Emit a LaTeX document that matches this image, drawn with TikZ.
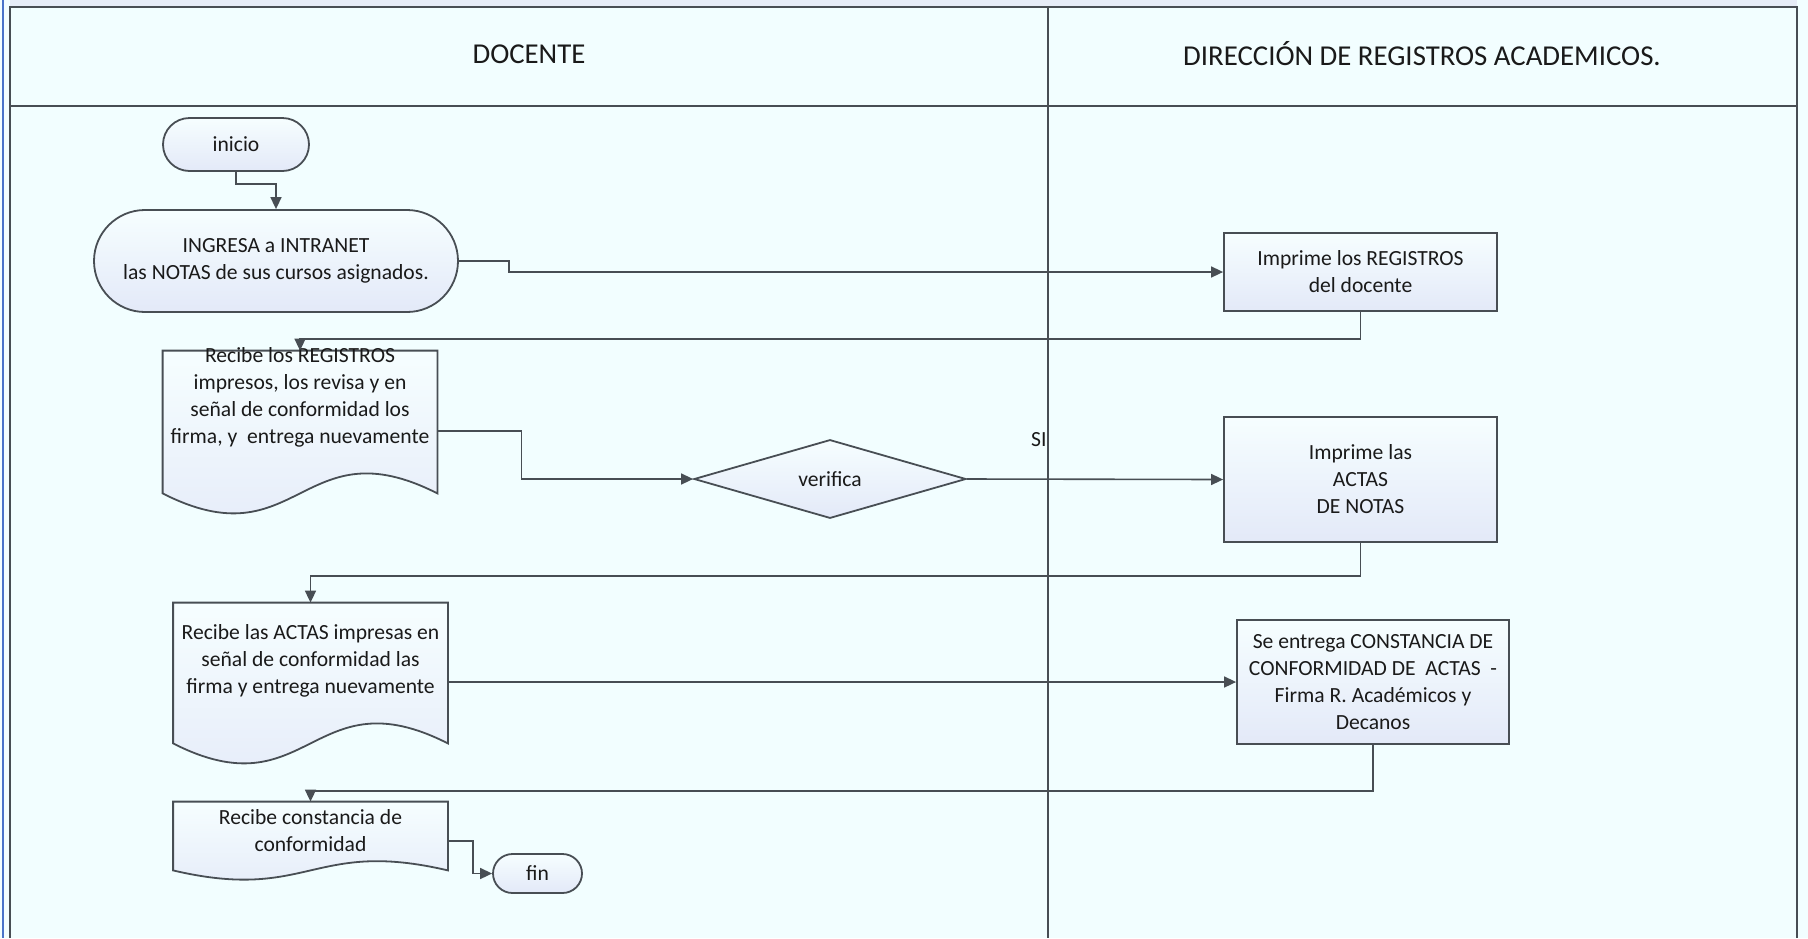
\documentclass[tikz,border=0pt]{standalone}
\usepackage{fontspec}
\setmainfont{Carlito}
\usetikzlibrary{shapes.geometric,shapes.misc,arrows.meta}
\definecolor{lanebg}{HTML}{F2FEFF}
\definecolor{laneline}{HTML}{484E54}
\definecolor{laneblue}{HTML}{4A74C9}
\definecolor{striptop}{HTML}{E6ECF7}
\definecolor{boxtop}{HTML}{F6FEFF}
\definecolor{boxbot}{HTML}{E3E9F8}
\definecolor{flowtext}{HTML}{1A1A1A}

% outline of a document shape round an empty node: name, wave depth
\newcommand{\wavedoc}[2]{%
  \draw[docline] (#1.south west) -- (#1.north west) -- (#1.north east) -- (#1.south east)
    .. controls +(-68pt,#2) and +(68pt,-#2) .. (#1.south west) -- cycle;}

\begin{document}
\begin{tikzpicture}[x=0.5pt, y=-0.5pt,
  txt/.style={font=\fontsize{10.8}{13.5}\selectfont, text=flowtext, align=center, inner sep=0pt},
  lanetitle/.style={font=\fontsize{14.4}{17}\selectfont, text=flowtext},
  procbox/.style={draw=laneline, line width=0.9pt, top color=boxtop, bottom color=boxbot,
    minimum width=136.5pt, inner sep=2pt, txt},
  termbox/.style={rounded rectangle, draw=laneline, line width=0.9pt, top color=boxtop,
    bottom color=boxbot, inner sep=2pt, txt},
  docbox/.style={minimum width=137pt, inner sep=0pt},
  docline/.style={draw=laneline, line width=0.9pt, top color=boxtop, bottom color=boxbot},
  flow/.style={draw=laneline, line width=0.8pt, -{Triangle[length=6pt,width=5.5pt]}},
  frame/.style={draw=laneline, line width=1pt}]

\useasboundingbox (0,0) rectangle (1808,938);
\fill[lanebg] (0,0) rectangle (1808,938);
\fill[striptop] (10,0) rectangle (1797,7);
\draw[laneblue, line width=1pt] (3,0) -- (3,938);

% swimlanes
\draw[frame] (10,938) -- (10,7) -- (1797,7) -- (1797,938);
\draw[frame] (10,106) -- (1797,106);
\draw[frame] (1048,7) -- (1048,938);
\node[lanetitle] (docente) at (529,54) {DOCENTE};
\node[lanetitle] (registros) at (1422,54) {DIRECCIÓN DE REGISTROS ACADEMICOS.};

% docente lane
\node[termbox, minimum width=73pt, minimum height=26.5pt] (inicio) at (236,144.5) {inicio};
\node[termbox, minimum width=182pt, minimum height=51pt] (ingresa) at (276,261)
  {INGRESA a INTRANET\\las NOTAS de sus cursos asignados.};

\node[docbox, minimum height=71pt] (recreg) at (300,422) {};
\wavedoc{recreg}{34.6pt}
\node[txt] (recregtxt) at (300,397.5)
  {Recibe los REGISTROS\\impresos, los revisa y en\\señal de conformidad los\\firma, y\ \ entrega nuevamente};

\node[diamond, draw=laneline, line width=0.9pt, top color=boxtop, bottom color=boxbot,
  minimum width=136pt, minimum height=38pt, inner sep=0pt, txt] (verifica) at (830,479) {verifica};
\node[txt, anchor=east] (si) at (1047,440) {SI};

\node[docbox, minimum height=70pt] (recactas) at (310.5,673) {};
\wavedoc{recactas}{34.6pt}
\node[txt] (recactastxt) at (310.5,661)
  {Recibe las ACTAS impresas en\\señal de conformidad las\\firma y entrega nuevamente};

\node[docbox, minimum height=34pt] (recconst) at (310.5,836) {};
\wavedoc{recconst}{16pt}
\node[txt] (recconsttxt) at (310.5,830.5) {Recibe constancia de\\conformidad};

\node[termbox, minimum width=44.5pt, minimum height=19.5pt] (fin) at (537.5,873.5) {fin};

% registros lane
\node[procbox, minimum height=39pt] (impreg) at (1360.5,272) {Imprime los REGISTROS\\del docente};
\node[procbox, minimum height=62.5pt] (impactas) at (1360.5,479.5) {Imprime las\\ACTAS\\DE NOTAS};
\node[procbox, minimum width=136pt, minimum height=62pt] (entrega) at (1373,682)
  {Se entrega CONSTANCIA DE\\CONFORMIDAD DE\ \ ACTAS\ \ -\\Firma R. Académicos y\\Decanos};

% connectors
\draw[flow] (inicio.south) -- ++(0,12) -| (ingresa.north);
\draw[flow] (ingresa.east) -- ++(50,0) |- (impreg.west);
\draw[flow] (impreg.south) -- ++(0,27) -| (recreg.north);
\draw[flow] ([yshift=-4.5pt]recreg.east) -- ++(84,0) |- (verifica.west);
\draw[flow] (verifica.east) -- (impactas.west);
\draw[flow] (impactas.south) -- ++(0,33) -| (recactas.north);
\draw[flow] (recactas.east |- entrega.west) -- (entrega.west);
\draw[flow] (entrega.south) -- ++(0,46) -| (recconst.north);
\draw[flow] ([yshift=-2.5pt]recconst.east) -- ++(25,0) |- (fin.west);
\end{tikzpicture}
\end{document}
